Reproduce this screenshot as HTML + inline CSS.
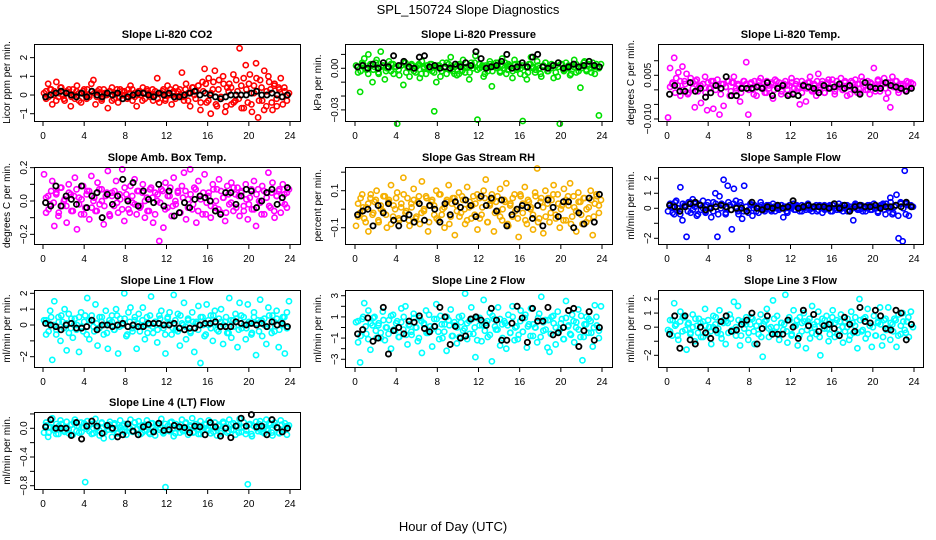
<!DOCTYPE html>
<html><head><meta charset="utf-8"><style>
body{margin:0;background:#fff}
svg{display:block;font-family:"Liberation Sans",sans-serif}
</style></head><body>
<svg id="c" width="936" height="540">
<text x="468" y="14" text-anchor="middle" font-size="13">SPL_150724  Slope Diagnostics</text>
<text x="453" y="531" text-anchor="middle" font-size="13">Hour of Day (UTC)</text>
</svg>
<script>
const co2Vals=[0.1,-0.2,0.6,0.3,-0.5,0.2,0.7,-0.1,0.4,0.0,-0.3,0.2,0.1,-0.6,0.3,-0.2,0.5,0.1,-0.4,0.2,0.0,0.3,-0.1,0.6,0.8,-0.5,0.2,0.1,-0.3,0.3,0.0,-0.7,0.2,0.4,-0.2,0.1,-0.4,0.3,0.0,0.2,-0.1,0.3,0.5,-0.3,0.1,-0.6,0.2,0.0,0.4,-0.2,0.3,0.1,0.0,-0.3,0.2,0.9,-0.4,0.1,0.3,-0.2,0.5,0.0,-0.5,0.2,0.4,-0.1,0.3,1.2,-0.3,0.6,0.1,-0.6,0.4,0.0,0.2,0.5,-0.8,0.7,1.4,-0.4,0.9,-1.0,0.3,1.3,-0.6,0.8,-0.2,1.0,-0.9,0.4,0.6,-0.5,1.1,-0.3,0.2,2.5,-0.7,0.9,1.6,-0.4,1.1,-0.9,0.5,1.7,-1.2,0.8,-0.3,1.3,-0.6,1.0,0.3,-0.8,0.6,-0.2,0.4,0.9,-0.5,0.2,-0.3,0.1];
const co2Core=[0.2,-0.1,0.3,0.0,-0.3,0.1,0.4,-0.2,0.1,0.3,-0.1,0.0,0.2,-0.3,0.1,0.3,-0.2,0.0,0.2,0.1,-0.1,0.3,-0.2,0.1,0.0,0.2,-0.3,0.1,0.3,-0.1,0.2,0.0,-0.2,0.1,0.3,-0.1,0.0,0.2,-0.3,0.1,0.2,-0.1,0.3,0.0,-0.2,0.1,0.2,-0.3,0.0,0.3,0.1,-0.2,0.2,0.0,-0.1,0.3,-0.3,0.1,0.4,-0.2,0.5,-0.4,0.2,0.6,-0.3,0.1,0.7,-0.5,0.3,-0.1,0.6,-0.6,0.2,0.4,-0.4,0.8,-0.2,0.5,-0.7,0.3,0.6,-0.5,0.1,0.9,-0.3,0.4,-0.8,0.2,0.7,-0.4,0.5,-0.6,0.3,-0.1,0.4,0.0];
const co2Black=[-0.1,0.0,0.1,0.2,0.1,0.0,-0.1,0.1,-0.1,0.2,0.0,-0.1,0.1,0.0,0.1,-0.2,-0.1,0.0,0.1,0.1,0.0,-0.1,0.1,0.0,0.1,-0.1,-0.1,0.0,0.1,0.2,0.0,0.1,0.0,-0.1,-0.2,-0.1,0.0,0.0,0.0,0.0,0.1,0.2,0.0,0.0,0.1,0.0,-0.1,0.0];
const presVals=[0.002,-0.003,-0.017,0.004,0.007,-0.001,0.010,0.003,-0.010,0.001,0.006,-0.004,0.012,0.002,-0.008,0.000,0.005,-0.002,0.003,0.001,-0.040,-0.005,0.002,-0.012,0.004,0.001,-0.006,0.003,0.000,-0.003,0.002,-0.007,0.005,0.001,-0.004,0.000,0.003,-0.002,-0.031,-0.010,0.002,-0.006,0.004,0.001,-0.004,0.003,0.008,-0.002,0.001,-0.005,-0.004,0.002,0.006,-0.003,0.001,-0.008,0.004,0.000,0.009,-0.037,0.003,0.001,-0.006,0.002,-0.002,0.005,-0.013,0.001,0.004,0.004,-0.002,0.007,0.000,-0.004,0.003,0.002,-0.007,0.006,-0.001,0.003,0.000,-0.038,-0.005,-0.008,0.003,0.008,0.001,-0.003,0.005,0.000,-0.006,0.002,0.004,-0.002,0.001,0.003,-0.007,0.002,-0.006,-0.040,0.003,-0.002,0.004,0.000,-0.005,0.002,0.006,-0.003,0.001,-0.014,0.002,0.005,-0.002,0.003,0.000,0.004,-0.004,0.001,-0.034,0.003];
const presCore=[0.001,-0.002,0.003,0.000,-0.004,0.002,-0.001,0.004,-0.003,0.001,0.002,-0.002,0.000,0.003,-0.004,0.001,-0.001,0.002,0.004,-0.003,0.000,0.002,-0.002,0.001,0.003,-0.004,0.000,0.002,-0.001,0.003,-0.003,0.001,0.002,-0.002,0.000,0.004,-0.001,0.001,-0.004,0.002,0.003,-0.002,0.000,0.001,-0.003,0.002,0.004,-0.001,0.000,0.002,-0.004,0.001,0.003,-0.002,0.001,0.000,-0.003,0.002,0.004,-0.001,0.001,-0.002,0.003,0.000,-0.004,0.002,0.001,-0.003,0.003,0.000,-0.001,0.002,-0.004,0.001,0.004,-0.002,0.000,0.002,-0.003,0.001,0.003,-0.001,0.000,0.002,-0.004,0.001,0.003,-0.002,0.000,0.004,-0.001,0.002,-0.003,0.001,0.003,0.000];
const presBlack=[0.001,0.002,0.000,0.003,0.000,0.004,0.001,0.009,0.002,0.005,0.001,0.000,0.008,0.009,0.001,0.002,0.000,0.001,0.000,0.003,0.001,0.004,0.002,0.012,0.007,0.000,0.001,0.002,0.005,0.010,0.000,0.001,0.004,0.001,0.008,0.010,0.001,0.000,0.002,0.004,0.000,0.001,0.003,0.001,0.002,0.005,0.002,0.001];
const tempVals=[-0.0095,0.0075,0.002,0.011,0.004,0.006,-0.002,0.008,0.003,0.0055,-0.001,0.004,0.0025,-0.006,0.0035,0.001,-0.0045,0.002,0.0045,-0.007,0.0005,0.003,-0.0065,0.0015,0.0035,-0.0085,0.002,-0.0055,0.001,0.003,-0.002,0.0025,0.0045,-0.0005,0.002,-0.004,0.001,0.003,0.0095,-0.0085,0.002,0.000,0.003,-0.002,0.0015,0.004,0.001,-0.001,0.003,0.0005,0.002,-0.003,0.0035,0.001,0.0025,-0.0015,0.002,0.003,0.000,0.0015,0.004,-0.001,0.002,0.0005,-0.005,0.003,0.001,-0.004,0.0025,0.0045,0.000,0.002,-0.002,0.0055,0.001,0.003,-0.001,0.002,0.0035,0.0005,0.002,-0.0015,0.003,0.001,0.004,0.000,0.0025,-0.002,0.0015,0.003,0.0005,0.0035,-0.001,0.002,0.0045,0.001,0.000,0.003,-0.0015,0.002,0.0075,0.001,0.0035,-0.0005,0.002,0.004,-0.003,0.0025,-0.006,0.0045,0.001,0.003,-0.001,0.002,0.0015,0.000,0.003,0.001,0.0025,0.002];
const tempCore=[0.001,0.0025,-0.001,0.0015,0.003,0.000,0.002,-0.0015,0.0025,0.0005,0.003,-0.0005,0.0015,0.002,-0.001,0.0025,0.0005,0.003,0.000,0.0015,-0.0015,0.002,0.001,0.003,-0.0005,0.0025,0.0005,0.0015,-0.001,0.003,0.002,0.000,0.0025,-0.0015,0.001,0.003,0.0005,0.002,-0.001,0.0015,0.0025,0.000,0.003,0.001,-0.0005,0.002,0.0015,-0.0015,0.0025,0.0005,0.003,0.001,-0.001,0.002,0.0005,0.0025,-0.0005,0.0015,0.003,0.000,0.002,-0.001,0.0025,0.001,0.0035,-0.0005,0.0015,0.002,0.000,0.003,0.001,-0.0015,0.0025,0.0005,0.002,-0.001,0.003,0.0015,0.000,0.0025,0.001,-0.0005,0.003,0.0015,0.002,0.0005,-0.001,0.0025,0.001,0.003,0.000,0.0015,0.002,-0.0005,0.0025,0.001];
const tempBlack=[-0.0015,0.0015,-0.0005,-0.0005,0.0025,-0.0005,0.0005,-0.0025,-0.001,0.0015,0.0005,0.0045,-0.002,-0.002,0.0005,0.0005,0.0005,0.001,0.0005,0.0025,-0.002,0.0005,0.0015,-0.002,-0.0015,-0.002,0.0015,0.001,0.0005,-0.001,0.0015,0.0005,0.001,0.002,0.0005,0.0015,0.000,-0.0015,0.0025,0.001,0.0005,0.0005,0.0025,0.0015,0.001,0.0005,-0.0005,0.0005];
const ambVals=[0.16,-0.07,0.03,-0.02,0.12,-0.15,0.05,-0.09,0.08,-0.03,0.01,-0.13,0.10,0.04,-0.06,0.14,-0.17,0.02,-0.08,0.09,-0.04,0.06,-0.11,0.15,0.00,-0.06,0.11,-0.02,0.07,-0.14,0.03,0.18,-0.09,0.05,-0.03,0.12,-0.07,0.01,0.19,-0.12,0.04,-0.05,0.09,-0.01,0.13,-0.08,0.06,-0.03,0.10,-0.10,0.02,-0.06,0.08,-0.13,0.05,0.00,-0.24,0.07,-0.16,0.11,-0.04,0.03,-0.09,0.14,-0.02,0.06,-0.07,0.09,0.17,-0.11,0.01,0.19,-0.05,0.08,-0.13,0.12,0.03,-0.08,0.16,-0.01,0.05,-0.10,0.10,-0.04,0.07,0.13,-0.07,0.02,-0.12,0.09,-0.02,0.11,-0.06,0.04,0.08,-0.09,0.06,-0.03,0.10,-0.11,0.02,-0.05,0.12,-0.15,0.07,-0.01,0.09,-0.08,0.05,0.17,-0.04,0.11,-0.10,0.03,0.06,-0.07,0.10,-0.02,0.05,0.07];
const ambCore=[0.02,-0.05,0.06,-0.01,0.04,-0.07,0.08,0.00,-0.03,0.05,-0.06,0.03,0.07,-0.02,0.01,-0.08,0.04,0.06,-0.04,0.02,-0.06,0.07,0.00,-0.03,0.05,-0.08,0.03,0.06,-0.01,0.04,-0.05,0.08,0.01,-0.07,0.03,-0.02,0.06,-0.04,0.05,0.00,-0.06,0.07,0.02,-0.08,0.04,-0.01,0.06,-0.05,0.03,0.08,-0.03,0.00,0.05,-0.07,0.02,0.06,-0.04,0.04,-0.02,0.07,-0.06,0.01,0.05,-0.08,0.03,-0.03,0.07,0.00,-0.05,0.06,0.02,-0.07,0.04,-0.01,0.08,-0.04,0.03,0.05,-0.06,0.01,-0.02,0.07,-0.05,0.04,0.00,-0.08,0.06,0.02,-0.03,0.05,-0.06,0.03,0.07,-0.01,0.04,-0.04];
const ambBlack=[-0.01,-0.03,0.09,-0.03,0.03,0.01,-0.02,0.09,-0.04,0.03,0.05,-0.10,0.04,-0.02,0.03,0.13,0.00,0.11,-0.03,0.06,0.01,-0.01,0.10,-0.03,0.06,-0.09,-0.07,-0.01,-0.04,0.01,0.03,0.02,0.00,-0.06,-0.08,0.05,0.05,-0.02,0.03,0.07,0.06,-0.04,0.00,0.05,0.07,-0.02,0.02,0.08];
const rhVals=[-0.09,0.03,-0.02,0.08,-0.05,0.01,-0.12,0.06,-0.03,0.04,0.10,-0.07,0.02,-0.01,0.07,-0.10,0.05,0.13,-0.04,0.00,0.09,-0.06,0.03,0.17,-0.02,0.06,-0.09,0.01,0.11,-0.05,0.04,-0.08,0.15,-0.01,0.07,-0.12,0.02,0.05,-0.03,0.10,-0.06,0.08,0.00,-0.10,0.04,0.13,-0.04,0.06,-0.14,0.02,0.09,-0.02,0.05,-0.08,0.12,0.01,-0.05,0.07,0.03,-0.11,0.06,-0.03,0.10,0.16,-0.07,0.02,0.08,-0.12,0.04,-0.01,0.11,-0.06,0.05,0.14,-0.09,0.03,-0.04,0.08,0.00,-0.15,0.07,-0.02,0.12,-0.08,0.04,0.01,-0.11,0.09,0.22,-0.05,0.06,-0.13,0.10,0.03,-0.07,0.05,0.13,-0.03,0.08,-0.10,0.02,0.11,-0.06,0.07,0.14,-0.04,0.01,-0.12,0.09,0.04,-0.08,0.06,0.00,-0.05,0.10,-0.14,0.03,0.07,-0.02,0.05];
const rhCore=[-0.04,0.06,0.01,-0.07,0.03,0.08,-0.02,0.05,-0.06,0.00,0.07,-0.03,0.04,-0.08,0.02,0.06,-0.05,0.01,0.08,-0.01,-0.06,0.03,0.05,-0.04,0.07,-0.02,0.00,0.06,-0.07,0.04,0.02,-0.05,0.08,-0.03,0.01,0.05,-0.08,0.03,0.06,-0.01,-0.04,0.07,0.00,-0.06,0.04,0.02,-0.03,0.08,-0.05,0.01,0.06,-0.07,0.03,0.05,-0.02,0.07,-0.04,0.00,0.04,-0.08,0.02,0.06,-0.01,-0.05,0.08,0.03,-0.06,0.05,0.00,-0.03,0.07,-0.07,0.04,0.01,-0.04,0.06,-0.02,0.08,-0.05,0.03,0.00,-0.06,0.05,0.02,-0.08,0.07,-0.01,0.04,-0.03,0.06,-0.07,0.01,0.05,-0.04,0.08,0.02];
const rhBlack=[-0.03,-0.01,0.00,-0.09,0.02,-0.02,0.03,-0.06,-0.09,-0.05,-0.03,-0.07,0.03,-0.06,0.02,0.00,-0.07,0.03,-0.03,0.04,0.01,0.05,0.02,-0.04,0.07,0.02,0.06,-0.01,0.05,-0.09,-0.03,0.00,0.02,0.01,-0.05,0.02,-0.09,0.05,0.01,-0.04,0.04,0.04,-0.10,-0.02,-0.08,0.06,-0.07,0.08];
const sampVals=[-0.2,0.3,0.1,-0.4,0.5,0.0,1.4,-0.8,0.2,-1.9,0.4,-0.3,0.6,0.1,-0.5,0.3,-0.1,0.5,-0.2,0.2,0.0,-0.6,0.4,1.0,-1.9,0.8,0.3,1.9,-0.4,1.5,0.2,-1.4,1.3,0.5,-0.2,0.4,-0.7,1.5,0.1,-0.3,0.3,-0.5,0.2,0.1,-0.3,0.4,0.0,-0.2,0.2,0.1,-0.1,0.3,-0.2,0.1,0.0,0.2,-0.6,0.1,-0.3,0.2,0.0,0.3,-0.1,0.1,-0.2,0.2,0.0,-0.1,0.3,0.1,-0.2,0.0,0.2,-0.1,0.1,-0.3,0.2,0.0,0.1,-0.2,0.2,0.0,-0.1,0.3,0.1,-0.2,0.0,0.2,-0.1,0.1,-0.8,0.3,0.0,-0.1,0.2,0.1,-0.2,0.0,0.2,-0.1,0.3,0.0,-0.2,0.1,0.2,-0.1,0.3,0.0,0.7,-0.4,0.1,0.9,-2.0,0.4,-2.2,2.5,0.3,-0.5,0.2,0.1];
const sampCore=[0.2,-0.3,0.4,0.0,-0.4,0.3,0.1,-0.2,0.4,-0.1,0.3,-0.4,0.2,0.0,-0.3,0.4,0.1,-0.2,0.3,-0.4,0.0,0.2,-0.3,0.4,-0.1,0.3,0.1,-0.4,0.2,-0.2,0.1,-0.1,0.2,0.0,-0.2,0.1,0.2,-0.1,0.0,0.2,-0.2,0.1,0.0,-0.1,0.2,0.1,-0.2,0.0,0.1,-0.1,0.2,0.0,-0.2,0.1,0.2,-0.1,0.0,0.1,-0.2,0.2,0.0,-0.1,0.1,0.2,-0.2,0.0,0.1,-0.1,0.2,0.0,-0.2,0.1,0.0,0.2,-0.1,0.1,-0.2,0.0,0.2,-0.1,0.1,0.0,-0.3,0.2,0.3,-0.4,0.1,0.4,-0.3,0.2,-0.5,0.3,0.0,-0.4,0.2,0.1];
const sampBlack=[0.2,0.1,-0.2,0.1,0.3,0.4,0.2,-0.1,0.0,0.1,0.2,0.1,-0.1,0.0,0.0,-0.2,0.4,0.0,-0.1,0.1,0.0,0.2,0.0,0.1,0.5,0.0,0.1,0.2,0.1,0.1,0.1,0.0,0.3,0.0,0.2,-0.2,0.1,0.2,0.1,0.1,0.2,0.0,0.1,0.1,0.2,0.1,0.4,0.1];
const l1Vals=[0.3,-0.6,0.1,0.9,-2.2,1.5,-0.3,0.5,-1.0,0.2,1.0,-1.6,0.7,-0.2,-0.8,0.4,0.0,-1.7,0.8,-0.4,0.6,1.7,-0.9,0.3,-0.1,1.3,-1.3,0.5,0.2,-0.6,0.9,-1.5,0.1,0.6,-0.3,1.0,-1.8,0.4,0.0,2.0,-0.7,0.8,1.1,-0.4,0.3,-1.5,0.7,-0.1,1.1,-0.9,0.5,0.0,1.8,-0.5,0.2,-1.1,0.6,0.9,-0.2,-1.8,0.4,0.8,-0.6,1.9,-0.3,0.7,-1.3,0.1,1.4,-0.9,0.3,-0.4,0.8,-1.7,0.2,1.2,-2.4,0.5,-0.7,1.3,0.0,0.6,-1.0,0.9,-0.3,0.4,1.0,-1.2,0.2,-0.5,1.7,-0.8,0.3,0.7,-1.4,1.4,-0.2,0.5,-0.9,1.3,0.1,-0.5,0.8,-1.9,0.3,1.6,-0.7,0.4,-1.2,1.1,-0.1,0.6,-0.4,0.9,-1.4,0.2,0.5,-1.8,0.8,1.5];
const l1Core=[0.3,-0.4,0.5,0.0,-0.6,0.2,0.6,-0.2,0.1,-0.5,0.4,0.0,-0.3,0.5,-0.1,0.2,-0.6,0.3,0.6,-0.4,0.1,-0.2,0.5,0.0,-0.5,0.3,0.2,-0.3,0.6,-0.1,0.0,0.4,-0.6,0.2,-0.2,0.5,0.1,-0.4,0.3,0.0,-0.5,0.6,-0.1,0.2,-0.3,0.4,0.0,-0.6,0.5,0.1,-0.2,0.3,-0.4,0.6,0.0,-0.1,0.4,-0.5,0.2,0.1,-0.3,0.5,0.0,-0.6,0.3,-0.2,0.6,0.1,-0.4,0.2,0.0,0.5,-0.5,0.3,-0.1,0.4,-0.3,0.6,0.0,-0.2,0.2,-0.6,0.5,0.1,-0.4,0.3,0.0,-0.1,0.6,-0.5,0.2,0.4,-0.3,0.0,0.5,-0.2];
const l1Black=[0.1,0.0,-0.1,-0.3,0.0,0.1,-0.2,-0.2,-0.1,0.3,-0.3,0.0,0.0,-0.1,0.0,0.1,-0.1,0.0,-0.1,-0.1,0.1,0.1,0.1,0.0,0.0,0.1,-0.2,-0.3,-0.2,-0.2,0.0,0.1,0.1,0.2,-0.1,-0.1,-0.1,0.2,0.1,0.0,0.1,0.0,0.1,-0.1,0.2,0.0,0.1,-0.1];
const l2Vals=[0.5,-1.4,-3.3,0.8,2.3,-0.6,1.6,-2.1,0.2,1.0,-1.0,0.4,-0.5,1.5,-1.2,0.0,0.7,-2.0,1.2,-0.3,0.6,-0.9,1.8,-0.2,2.0,-1.6,0.3,-0.7,1.3,0.0,-1.3,0.9,-2.4,0.4,1.6,-0.5,0.1,-1.8,0.8,2.2,-0.4,1.1,-1.0,0.3,-2.2,0.7,1.7,-0.8,0.2,-1.5,1.0,0.5,-0.3,3.2,-1.1,0.6,1.9,-0.6,-2.8,0.9,0.2,-1.3,2.6,0.4,-0.9,1.4,-3.2,0.8,-0.2,1.9,-1.7,0.3,0.6,-2.0,1.2,-0.5,2.0,-1.2,0.1,-0.7,1.6,-0.4,0.9,-1.9,0.3,1.8,-0.8,0.0,-1.4,1.3,2.9,-0.3,0.7,-1.9,-2.3,1.0,0.4,-1.6,1.5,-0.2,0.8,-1.1,2.5,0.1,-0.6,1.2,-1.4,0.5,1.7,-0.9,-3.1,0.3,1.0,-0.5,0.6,-1.8,2.1,0.2,-1.0,2.0];
const l2Core=[0.6,-0.8,1.0,0.1,-1.1,0.4,0.9,-0.3,0.2,-1.0,0.7,0.0,-0.6,1.1,-0.2,0.4,-0.9,0.5,1.0,-0.7,0.2,-0.4,0.9,0.0,-1.0,0.6,0.3,-0.5,1.2,-0.2,0.1,0.8,-1.1,0.3,-0.4,1.0,0.2,-0.8,0.5,0.0,-0.9,1.1,-0.1,0.4,-0.6,0.8,0.0,-1.2,0.9,0.2,-0.3,0.6,-0.7,1.1,0.1,-0.2,0.8,-1.0,0.4,0.2,-0.5,1.0,0.0,-1.1,0.6,-0.4,1.2,0.1,-0.8,0.3,0.0,0.9,-0.9,0.5,-0.2,0.7,-0.6,1.1,0.0,-0.4,0.4,-1.1,0.9,0.2,-0.7,0.6,0.0,-0.2,1.1,-0.9,0.3,0.8,-0.5,0.0,1.0,-0.3];
const l2Black=[-0.6,-0.2,0.9,-1.3,-1.0,1.9,-2.5,-0.3,0.0,-0.6,0.6,0.5,1.1,-0.1,-0.4,0.1,1.9,1.0,-1.6,0.1,-1.0,-0.8,0.8,1.0,0.7,0.2,1.8,0.7,-1.2,-1.2,0.4,2.0,0.9,-1.4,1.8,0.6,0.6,1.9,-0.7,-0.5,0.0,1.6,1.8,-1.8,-0.3,1.5,-1.2,0.0];
const l3Vals=[-0.2,0.5,-0.6,1.7,0.2,-0.9,1.1,-0.3,0.7,-1.6,0.3,-0.4,0.9,-1.0,0.1,0.6,-0.7,0.4,1.3,-0.5,0.0,-1.2,0.8,0.2,-0.4,1.2,-0.8,0.5,-1.2,0.3,0.9,-0.2,1.8,-0.6,1.5,-1.3,0.4,-0.1,0.7,-0.9,0.2,0.6,-1.2,0.1,-0.5,0.9,-2.1,0.4,1.3,-0.7,0.0,1.9,-0.4,0.8,-0.9,0.3,-0.2,2.3,-1.1,0.5,-0.6,1.2,0.1,-1.3,0.7,-0.3,1.0,-1.5,0.4,-0.8,1.5,0.2,-0.5,1.1,-2.0,0.6,-0.1,0.8,-1.0,0.3,1.2,-0.7,0.5,-0.2,0.9,-1.1,0.4,0.0,-0.9,1.1,-0.4,0.7,-1.5,2.0,-0.3,0.6,-0.8,1.3,0.1,-1.4,0.8,-0.6,0.3,1.4,-1.3,0.5,-0.2,1.4,-0.9,0.2,0.6,-1.4,0.9,-0.5,1.0,-0.2,0.4,-0.7,1.1,0.0];
const l3Core=[-0.3,0.5,0.1,-0.6,0.4,0.7,-0.2,0.2,-0.5,0.0,0.6,-0.4,0.3,-0.7,0.1,0.5,-0.3,0.0,0.7,-0.1,-0.5,0.3,0.4,-0.4,0.6,-0.2,0.0,0.5,-0.6,0.3,0.2,-0.4,0.7,-0.3,0.1,0.4,-0.7,0.2,0.5,-0.1,-0.4,0.6,0.0,-0.5,0.3,0.2,-0.3,0.7,-0.5,0.1,0.5,-0.6,0.3,0.4,-0.2,0.6,-0.4,0.0,0.4,-0.7,0.2,0.5,-0.1,-0.5,0.7,0.3,-0.5,0.4,0.0,-0.3,0.6,-0.6,0.3,0.1,-0.4,0.5,-0.2,0.7,-0.5,0.3,0.0,-0.6,0.4,0.2,-0.7,0.6,-0.1,0.3,-0.3,0.5,-0.6,0.1,0.4,-0.4,0.7,0.2];
const l3Black=[-0.5,0.8,-1.5,0.8,-0.9,-1.2,0.0,-0.4,-0.8,-0.2,0.4,0.8,-0.3,-0.2,0.2,0.5,1.0,-1.2,-0.1,0.8,-0.5,-0.5,-0.5,0.5,0.0,-0.8,1.2,0.1,0.9,-0.3,0.1,0.2,-0.1,-0.6,0.7,0.2,-0.3,1.4,0.4,0.3,1.2,0.8,-0.1,-0.2,1.2,1.0,-0.9,0.2];
const l4Vals=[-0.06,0.08,-0.12,0.02,0.14,-0.03,0.06,-0.08,0.11,0.00,-0.05,0.09,-0.02,0.05,-0.09,0.12,0.03,-0.06,0.08,0.01,-0.75,0.10,-0.04,0.06,-0.07,0.13,0.02,-0.10,0.07,-0.14,0.04,-0.02,0.09,-0.12,0.05,0.00,-0.07,0.11,-0.03,0.06,-0.09,0.02,0.12,-0.05,0.08,-0.01,0.10,-0.08,0.04,-0.03,0.11,-0.06,0.07,0.01,-0.10,0.05,-0.02,0.13,-0.07,-0.82,0.03,-0.04,0.09,-0.11,0.06,0.00,-0.06,0.12,-0.02,0.08,-0.09,0.04,0.14,-0.05,0.02,-0.08,0.10,-0.03,0.06,-0.01,0.11,-0.07,0.03,0.08,-0.10,0.05,-0.04,0.09,0.01,-0.06,0.12,-0.02,0.07,-0.09,0.04,0.13,-0.05,0.02,-0.08,-0.78,0.06,-0.11,0.03,0.09,-0.04,0.10,0.00,-0.07,0.12,-0.03,0.05,-0.10,0.08,0.01,-0.06,0.11,-0.02,0.07,-0.09,0.04];
const l4Core=[0.04,-0.06,0.07,0.00,-0.08,0.03,0.06,-0.03,0.01,-0.07,0.05,0.08,-0.04,0.02,-0.05,0.07,-0.01,0.04,-0.08,0.06,0.00,-0.03,0.08,-0.06,0.02,0.05,-0.02,0.07,-0.07,0.01,0.04,-0.05,0.06,0.00,-0.04,0.08,-0.01,0.03,-0.06,0.05,0.02,-0.08,0.07,-0.02,0.04,0.01,-0.05,0.06,-0.03,0.08,0.00,-0.07,0.03,0.05,-0.04,0.07,-0.01,0.02,-0.06,0.06,0.04,-0.08,0.01,0.05,-0.03,0.08,-0.05,0.00,0.03,-0.07,0.07,0.02,-0.04,0.06,-0.02,0.04,-0.06,0.01,0.08,-0.03,0.05,-0.08,0.03,0.00,0.06,-0.05,0.02,-0.01,0.07,-0.06,0.04,0.01,-0.07,0.05,-0.02,0.03];
const l4Black=[0.02,0.12,0.00,0.00,0.00,-0.10,0.08,-0.15,0.03,0.10,0.03,-0.07,0.04,0.00,-0.12,-0.09,0.06,-0.04,-0.09,0.02,0.05,-0.05,0.07,-0.03,-0.02,0.04,0.02,0.01,-0.06,0.03,0.02,-0.09,0.08,0.02,-0.11,0.00,-0.13,0.03,0.14,0.03,0.19,0.02,0.03,-0.09,0.12,0.01,-0.05,0.00];
const xTicks=[0,4,8,12,16,20,24];

const svg=document.getElementById('c');
const NS='http://www.w3.org/2000/svg';
function mk(tag,attrs,parent){const e=document.createElementNS(NS,tag);for(const k in attrs)e.setAttribute(k,attrs[k]);parent.appendChild(e);return e;}
const cols=[{l:34,r:300,x0:43,x1:290},{l:345,r:612,x0:355,x1:602},{l:658,r:923,x0:667,x1:914}];
const rows=[{t:44,b:121},{t:167,b:244},{t:290,b:367},{t:412,b:489}];
const panels=[
{name:'co2',title:'Slope Li-820 CO2',ylab:'Licor ppm per min.',c:0,r:0,lo:-1.39,hi:2.73,ticks:[-1,0,1,2],labels:['-1','0','1','2'],col:'#ff0000',vals:co2Vals,core:co2Core,blk:co2Black},
{name:'pressure',title:'Slope Li-820 Pressure',ylab:'kPa per min.',c:1,r:0,lo:-0.038,hi:0.0175,ticks:[-0.03,-0.02,-0.01,0,0.01],labels:['-0.03','','','0.00',''],col:'#00e000',vals:presVals,core:presCore,blk:presBlack},
{name:'temp',title:'Slope Li-820 Temp.',ylab:'degrees C per min.',c:2,r:0,lo:-0.0107,hi:0.01575,ticks:[-0.01,-0.005,0,0.005,0.01],labels:['-0.010','','','0.005',''],col:'#ff00ff',vals:tempVals,core:tempCore,blk:tempBlack},
{name:'amb-box-temp',title:'Slope Amb. Box Temp.',ylab:'degrees C per min.',c:0,r:1,lo:-0.258,hi:0.204,ticks:[-0.2,-0.1,0,0.1,0.2],labels:['-0.2','','0.0','','0.2'],col:'#ff00ff',vals:ambVals,core:ambCore,blk:ambBlack},
{name:'gas-rh',title:'Slope Gas Stream RH',ylab:'percent per min.',c:1,r:1,lo:-0.188,hi:0.228,ticks:[-0.1,0,0.1,0.2],labels:['-0.1','','0.1',''],col:'#f5b000',vals:rhVals,core:rhCore,blk:rhBlack},
{name:'sample-flow',title:'Slope Sample Flow',ylab:'ml/min per min.',c:2,r:1,lo:-2.38,hi:2.75,ticks:[-2,-1,0,1,2],labels:['-2','','0','1','2'],col:'#0000ff',vals:sampVals,core:sampCore,blk:sampBlack},
{name:'line1-flow',title:'Slope Line 1 Flow',ylab:'ml/min per min.',c:0,r:2,lo:-2.65,hi:2.21,ticks:[-2,-1,0,1,2],labels:['-2','','0','1','2'],col:'#00ffff',vals:l1Vals,core:l1Core,blk:l1Black},
{name:'line2-flow',title:'Slope Line 2 Flow',ylab:'ml/min per min.',c:1,r:2,lo:-3.73,hi:3.54,ticks:[-3,-2,-1,0,1,2,3],labels:['-3','','-1','','1','','3'],col:'#00ffff',vals:l2Vals,core:l2Core,blk:l2Black},
{name:'line3-flow',title:'Slope Line 3 Flow',ylab:'ml/min per min.',c:2,r:2,lo:-2.83,hi:2.64,ticks:[-2,-1,0,1,2],labels:['-2','','0','1','2'],col:'#00ffff',vals:l3Vals,core:l3Core,blk:l3Black},
{name:'line4-flow',title:'Slope Line 4 (LT) Flow',ylab:'ml/min per min.',c:0,r:3,lo:-0.846,hi:0.227,ticks:[-0.8,-0.6,-0.4,-0.2,0,0.2],labels:['-0.8','','-0.4','','0.0',''],col:'#00ffff',vals:l4Vals,core:l4Core,blk:l4Black}
];
panels.forEach(p=>{
  const C=cols[p.c],R=rows[p.r];
  const g=mk('g',{},svg);
  
  
  const xs=h=>C.x0+(C.x1-C.x0)*h/24;
  const ys=v=>R.b-(R.b-R.t)*(v-p.lo)/(p.hi-p.lo);
  const t=mk('text',{x:(C.l+C.r)/2,y:R.t-6,'text-anchor':'middle','font-size':11,'font-weight':'bold'},g);
  t.textContent=p.title;
  
  
  const yl=mk('text',{transform:`translate(${C.l-24},${(R.t+R.b)/2}) rotate(-90)`,'text-anchor':'middle','font-size':10},g);
  yl.textContent=p.ylab;
  
  
  const pts=mk('g',{fill:'none','stroke-width':1.6},g);
  
  
  const nc=p.core.length;
  p.core.forEach((v,i)=>{
    const h=0.3+23.4*i/(nc-1);
    const c=mk('circle',{cx:xs(h),cy:ys(v),r:2.6,stroke:p.col},pts);
    
    
  });
  const n=p.vals.length;
  p.vals.forEach((v,i)=>{
    const h=0.1+23.8*i/(n-1);
    const c=mk('circle',{cx:xs(h),cy:ys(v),r:2.6,stroke:p.col},pts);
    
    
  });
  const bg=mk('g',{fill:'none','stroke-width':1.8},g);
  
  
  const m=p.blk.length;
  p.blk.forEach((v,i)=>{
    const h=(i+0.5)*24/m;
    const c=mk('circle',{cx:xs(h),cy:ys(v),r:2.6,stroke:'#000'},bg);
    
    
  });
  const box=mk('rect',{x:C.l+0.5,y:R.t+0.5,width:C.r-C.l,height:R.b-R.t,fill:'none',stroke:'#000','stroke-width':1},g);
  
  
  const xa=mk('g',{'font-size':10},g);
  
  
  xTicks.forEach(h=>{
    mk('line',{x1:xs(h),x2:xs(h),y1:R.b+1,y2:R.b+5,stroke:'#000'},xa);
    const tt=mk('text',{x:xs(h),y:R.b+18,'text-anchor':'middle'},xa);
    tt.textContent=h;
  });
  const ya=mk('g',{'font-size':10},g);
  
  
  p.ticks.forEach((v,i)=>{
    const y=ys(v);
    if(y<R.t-1||y>R.b+1)return;
    mk('line',{x1:C.l-4,x2:C.l,y1:y,y2:y,stroke:'#000'},ya);
    if(p.labels[i]){
      const tt=mk('text',{transform:`translate(${C.l-7},${y}) rotate(-90)`,'text-anchor':'middle'},ya);
      tt.textContent=p.labels[i].replace('-','\u2212');
    }
  });
});
</script>
</body></html>
